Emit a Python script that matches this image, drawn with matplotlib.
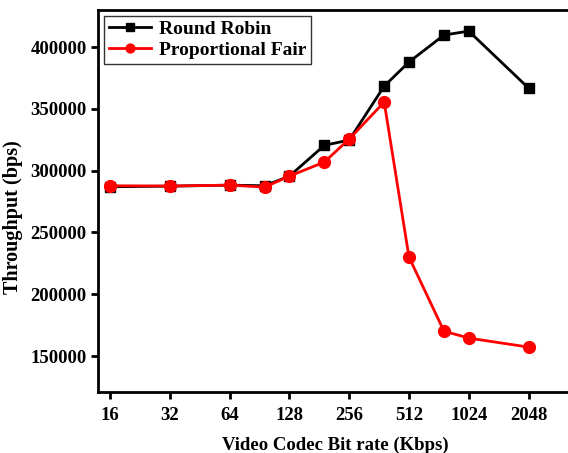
import matplotlib
matplotlib.use("Agg")
import matplotlib.pyplot as plt
from matplotlib.ticker import FixedLocator, NullLocator

plt.rcParams['font.family'] = ['Liberation Serif', 'DejaVu Serif']
plt.rcParams['font.weight'] = 'bold'

# Data
bitrates = [16, 32, 64, 96, 128, 192, 256, 384, 512, 768, 1024, 2048]
round_robin = [287000, 287500, 288300, 287800, 295600, 320500, 324800,
               368400, 387900, 409700, 412900, 366800]
prop_fair = [287800, 287600, 288300, 286700, 295600, 307000, 325600,
             355500, 230100, 170200, 164600, 157300]
tick_labels = [16, 32, 64, 128, 256, 512, 1024, 2048]

fig = plt.figure(figsize=(5.68, 4.53), dpi=100)
ax = fig.add_axes([0.1725, 0.1347, 0.835, 0.8433])

ax.plot(bitrates, round_robin, color='black', marker='s', markersize=7,
        linewidth=2, label='Round Robin')
ax.plot(bitrates, prop_fair, color='red', marker='o', markersize=8.5,
        linewidth=2, label='Proportional Fair')

ax.set_xscale('log', base=2)
ax.set_xlim(13.9, 3400)
ax.set_ylim(121000, 430000)
ax.xaxis.set_major_locator(FixedLocator(tick_labels))
ax.xaxis.set_minor_locator(NullLocator())
ax.set_xticklabels([str(t) for t in tick_labels])
ax.set_yticks([150000, 200000, 250000, 300000, 350000, 400000])
ax.set_yticklabels(['150000', '200000', '250000', '300000', '350000', '400000'])

for s in ax.spines.values():
    s.set_linewidth(2)
ax.tick_params(direction='out', width=2, length=5, labelsize=13.5,
               top=False, right=False)
ax.tick_params(axis='x', pad=6)
ax.tick_params(axis='y', pad=3)
for lab in ax.get_xticklabels() + ax.get_yticklabels():
    lab.set_fontweight('bold')

ax.set_xlabel('Video Codec Bit rate (Kbps)', fontsize=13.5, fontweight='bold', labelpad=9)
ax.set_ylabel('Throughput (bps)', fontsize=14.5, fontweight='bold')
ax.yaxis.set_label_coords(-0.158, 0.458)

leg = ax.legend(loc='upper left', frameon=True, fancybox=False,
                edgecolor='black', handlelength=2.2, handletextpad=0.4,
                borderpad=0.25, labelspacing=0.15, borderaxespad=0.3,
                markerscale=0.75, prop={'weight': 'bold', 'size': 14})
leg.get_frame().set_linewidth(1)

fig.savefig('out.png', dpi=100)
